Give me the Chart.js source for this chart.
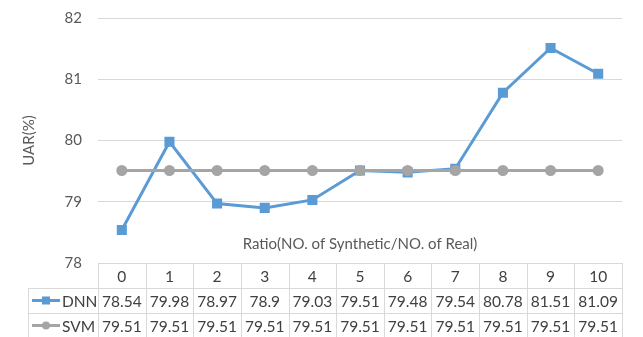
<!DOCTYPE html>
<html>
<head>
<meta charset="utf-8">
<script src="https://cdn.jsdelivr.net/npm/chart.js@4/dist/chart.umd.min.js"></script>
<style>
  html, body { margin: 0; padding: 0; background: #fff; }
  #wrap { width: 643px; height: 337px; }
</style>
</head>
<body>
<div id="wrap"><canvas id="uar"></canvas></div>
<script>
// ratio of synthetic to real samples
const ratios = ["0", "1", "2", "3", "4", "5", "6", "7", "8", "9", "10"];
const dnnUar = [78.54, 79.98, 78.97, 78.9, 79.03, 79.51, 79.48, 79.54, 80.78, 81.51, 81.09];
const svmUar = [79.51, 79.51, 79.51, 79.51, 79.51, 79.51, 79.51, 79.51, 79.51, 79.51, 79.51];
const yTicks = [78, 79, 80, 81, 82];

const FONT = "Lato, 'Open Sans', sans-serif";
const TXT = "#595959";
const GRID = "#d9d9d9";
const BLUE = "#5b9bd5";
const GREY = "#a5a5a5";

/**
 * Draws the data table under the plot plus both axis titles
 */
const dataTable = {
  id: "dataTable",
  afterDraw(chart) {
    const ctx = chart.ctx;
    const x = chart.scales.x;
    const area = chart.chartArea;
    const colW = x.getPixelForValue(1) - x.getPixelForValue(0);
    const left = area.left, right = area.right;
    const top = area.bottom;
    const rowH = 25;
    const keyLeft = 28;

    ctx.save();
    ctx.strokeStyle = GRID;
    ctx.lineWidth = 1;
    ctx.beginPath();
    // horizontal rules
    ctx.moveTo(left, top + 0.5); ctx.lineTo(right, top + 0.5);
    for (let r = 1; r <= 3; r++) {
      const y = Math.round(top + r * rowH) + 0.5;
      ctx.moveTo(keyLeft, y); ctx.lineTo(right, y);
    }
    // vertical rules
    for (let i = 0; i <= ratios.length; i++) {
      const xx = Math.round(left + i * colW) + 0.5;
      ctx.moveTo(xx, top); ctx.lineTo(xx, top + 3 * rowH + 2);
    }
    ctx.moveTo(keyLeft + 0.5, top + rowH); ctx.lineTo(keyLeft + 0.5, top + 3 * rowH + 2);
    ctx.stroke();

    ctx.fillStyle = "#404040";
    ctx.font = "15.5px " + FONT;
    ctx.textAlign = "center";
    ctx.textBaseline = "middle";
    const rows = [ratios, dnnUar, svmUar];
    rows.forEach((vals, r) => {
      const cy = top + r * rowH + rowH / 2 + 1;
      vals.forEach((v, i) => {
        ctx.fillText(String(v), x.getPixelForValue(i), cy);
      });
    });

    // legend keys in the row headers
    const keys = [["DNN", BLUE, "rect"], ["SVM", GREY, "circle"]];
    keys.forEach((k, j) => {
      const cy = top + (j + 1) * rowH + rowH / 2;
      ctx.strokeStyle = k[1];
      ctx.lineWidth = 3;
      ctx.beginPath();
      ctx.moveTo(32, cy); ctx.lineTo(60, cy);
      ctx.stroke();
      ctx.fillStyle = k[1];
      if (k[2] === "rect") {
        ctx.fillRect(42, cy - 4, 8, 8);
      } else {
        ctx.beginPath(); ctx.arc(46, cy, 4, 0, Math.PI * 2); ctx.fill();
      }
      ctx.fillStyle = "#404040";
      ctx.textAlign = "left";
      ctx.fillText(k[0], 62, cy + 1);
    });

    // axis titles
    ctx.fillStyle = TXT;
    ctx.font = "15px " + FONT;
    ctx.textAlign = "center";
    ctx.fillText("Ratio(NO. of Synthetic/NO. of Real)", (left + right) / 2, top - 19);
    ctx.translate(29, (area.top + area.bottom) / 2);
    ctx.rotate(-Math.PI / 2);
    ctx.fillText("UAR(%)", 0, 0);
    ctx.restore();
  }
};

new Chart(document.getElementById("uar"), {
  type: "line",
  data: {
    labels: ratios,
    datasets: [
      {
        label: "SVM",
        data: svmUar,
        borderColor: GREY,
        backgroundColor: GREY,
        borderWidth: 3,
        pointStyle: "circle",
        pointRadius: 4,
        pointHoverRadius: 4,
        tension: 0
      },
      {
        label: "DNN",
        data: dnnUar,
        borderColor: BLUE,
        backgroundColor: BLUE,
        borderWidth: 3,
        pointStyle: "rect",
        pointRadius: 5,
        pointHoverRadius: 5,
        tension: 0
      }
    ]
  },
  options: {
    responsive: true,
    maintainAspectRatio: false,
    animation: false,
    layout: { padding: { top: 18, right: 21, bottom: 74, left: 0 } },
    plugins: {
      legend: { display: false },
      tooltip: { enabled: false }
    },
    scales: {
      x: {
        display: false,
        offset: true
      },
      y: {
        min: 78,
        max: 82,
        afterFit: (scale) => {
          scale.width = 98;
          scale.paddingTop = 0;
          scale.paddingBottom = 0;
        },
        afterBuildTicks: (scale) => { scale.ticks = yTicks.map(v => ({ value: v })); },
        border: { display: false },
        grid: { color: GRID, drawTicks: false },
        ticks: {
          color: TXT,
          padding: 16,
          font: { family: FONT, size: 15 }
        }
      }
    }
  },
  plugins: [dataTable]
});
</script>
</body>
</html>
